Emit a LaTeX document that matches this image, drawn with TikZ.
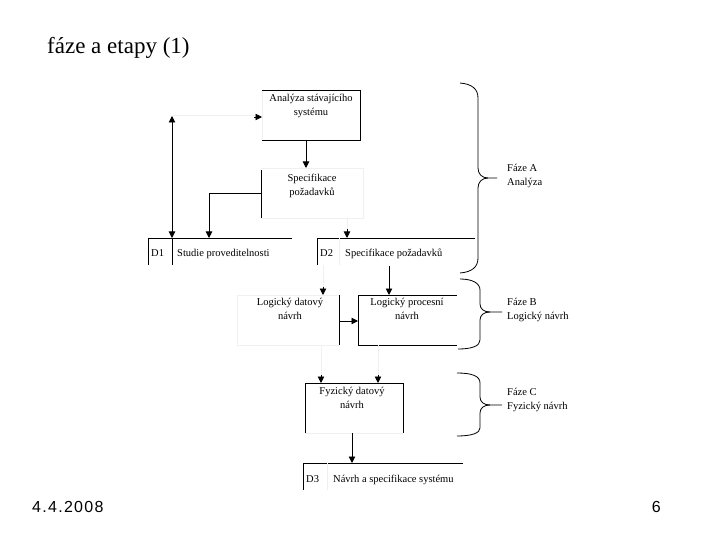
\documentclass[tikz,border=0pt]{standalone}
\usepackage{fontspec}
\setmainfont{Liberation Serif}
\newfontfamily\footfont[LetterSpace=8]{Liberation Sans}
\usetikzlibrary{arrows.meta}
\tikzset{
  ln/.style={draw=black, line width=0.9pt},
  faint/.style={draw=black!6, line width=0.8pt},
  arr/.style={ln, -{Triangle[width=6.5pt,length=6.5pt]}},
  lbl/.style={font=\fontsize{10.5}{14}\selectfont, align=center, inner sep=0pt},
  lbll/.style={font=\fontsize{10.5}{14}\selectfont, align=left, anchor=west, inner sep=0pt},
  one/.style={font=\fontsize{10.5}{14}\selectfont, anchor=base west, inner sep=0pt}
}
\begin{document}
\begin{tikzpicture}[x=1pt,y=-1pt]
\useasboundingbox (0,0) rectangle (720,540);
\fill[white] (0,0) rectangle (720,540);
% title and footer
\node[anchor=west, inner sep=0pt, font=\fontsize{23}{27}\selectfont] (title) at (47,48) {fáze a etapy (1)};
\node[anchor=west, inner sep=0pt, font=\footfont\fontsize{16}{18}\selectfont] (date) at (32,507) {4.4.2008};
\node[anchor=east, inner sep=0pt, font=\footfont\fontsize{16}{18}\selectfont] (page) at (661,507) {6};

% Analyza box
\draw[faint] (262,90) -- (262,140);
\draw[ln] (262,90) -- (360,90) -- (360,140) -- (262,140);
\node[lbl] (ana) at (311,106) {Analýza stávajícího\\systému};
% Specifikace box
\draw[faint] (261,168) -- (363,168) -- (363,218) -- (261,218);
\draw[ln] (261,170) -- (261,218);
\node[lbl] (spec) at (312,186) {Specifikace\\požadavků};
\coordinate (anaB) at (306,140);
\coordinate (specT) at (306,168);
\draw[arr] (anaB) -- (specT);

% D1
\draw[ln] (148,238) -- (292,238);
\draw[ln] (148,238) -- (148,265);
\draw[ln] (172,238) -- (172,265);
\node[one] (d1n) at (151,256) {D1};
\node[one] (d1) at (177,256) {Studie proveditelnosti};
% D2
\draw[ln] (317,238) -- (475,238);
\draw[ln] (317,238) -- (317,265);
\draw[faint] (339,238) -- (339,265);
\node[one] (d2n) at (320,256) {D2};
\node[one] (d2) at (345,256) {Specifikace požadavků};

% connectors around D1
\coordinate (specL) at (261,193);
\coordinate (d1a) at (209,238);
\draw[arr] (specL) -| (d1a);
\coordinate (d1b) at (172,238);
\coordinate (d1up) at (172,116);
\draw[ln, {Triangle[width=6.5pt,length=6.5pt]}-{Triangle[width=6.5pt,length=6.5pt]}] (d1up) -- (d1b);
\coordinate (anaL) at (262,117);
\draw[faint] (172,115) -- (255,115);
\draw[arr] (254,117) -- (anaL);
% Spec -> D2
\coordinate (specB) at (347,218);
\coordinate (d2t) at (347,238);
\draw[faint] (specB) -- (347,230);
\draw[arr] (347,229) -- (d2t);

% Logicky datovy navrh
\draw[faint] (237,295) -- (339,295);
\draw[faint] (237,295) -- (237,345) -- (339,345);
\draw[ln] (339,295) -- (339,345);
\node[lbl] (ldn) at (290,309) {Logický datový\\návrh};
% Logicky procesni navrh
\draw[ln] (457,295) -- (358,295) -- (358,345) -- (457,345);
\node[lbl] (lpn) at (407,309) {Logický procesní\\návrh};
\coordinate (d2b) at (389,266);
\coordinate (lpnT) at (389,295);
\draw[arr] (d2b) -- (lpnT);
\draw[faint] (323,265) -- (323,288);
\coordinate (ldnT) at (323,295);
\draw[arr] (323,287) -- (ldnT);
\coordinate (ldnR) at (339,321);
\coordinate (lpnL) at (358,321);
\draw[arr] (ldnR) -- (lpnL);

% Fyzicky datovy navrh
\draw[ln] (305,433) -- (305,383) -- (403,383) -- (403,433);
\draw[faint] (305,433) -- (403,433);
\node[lbl] (fdn) at (352,398) {Fyzický datový\\návrh};
\draw[faint] (321,345) -- (321,377);
\draw[faint] (378,345) -- (378,377);
\coordinate (fdnT1) at (321,383);
\coordinate (fdnT2) at (378,383);
\draw[arr] (321,375) -- (fdnT1);
\draw[arr] (378,375) -- (fdnT2);
\coordinate (fdnB) at (352,433);
\coordinate (d3t) at (352,463);
\draw[arr] (fdnB) -- (d3t);

% D3
\draw[ln] (303,463) -- (463,463);
\draw[ln] (303,463) -- (303,490);
\draw[faint] (327,463) -- (327,490);
\node[one] (d3n) at (306,482) {D3};
\node[one] (d3) at (333,482) {Návrh a specifikace systému};

% braces
\tikzset{brace/.style={draw=black, line width=0.8pt}}
\draw[brace] (460,83) .. controls (472,84) and (478,89) .. (478,98) -- (478,168)
   .. controls (478,174) and (482,178) .. (488,178) -- (497,178);
\draw[brace] (488,178) .. controls (482,178) and (478,182) .. (478,188) -- (478,258)
   .. controls (478,267) and (472,272) .. (460,273);
\node[lbll] (fa) at (507,176) {Fáze A\\Analýza};

\draw[brace] (460,279) .. controls (472,279) and (480,283) .. (480,290) -- (480,304)
   .. controls (480,309) and (484,312) .. (490,312) -- (502,312);
\draw[brace] (490,312) .. controls (484,312) and (480,315) .. (480,320) -- (480,340)
   .. controls (480,346) and (472,349) .. (458,349);
\node[lbll] (fb) at (507,310) {Fáze B\\Logický návrh};

\draw[brace] (457,373) .. controls (472,373) and (480,376) .. (480,383) -- (480,397)
   .. controls (480,402) and (484,405) .. (490,405) -- (502,405);
\draw[brace] (490,405) .. controls (484,405) and (480,408) .. (480,413) -- (480,428)
   .. controls (480,433) and (472,436) .. (457,436);
\node[lbll] (fc) at (507,400) {Fáze C\\Fyzický návrh};
\end{tikzpicture}
\end{document}
